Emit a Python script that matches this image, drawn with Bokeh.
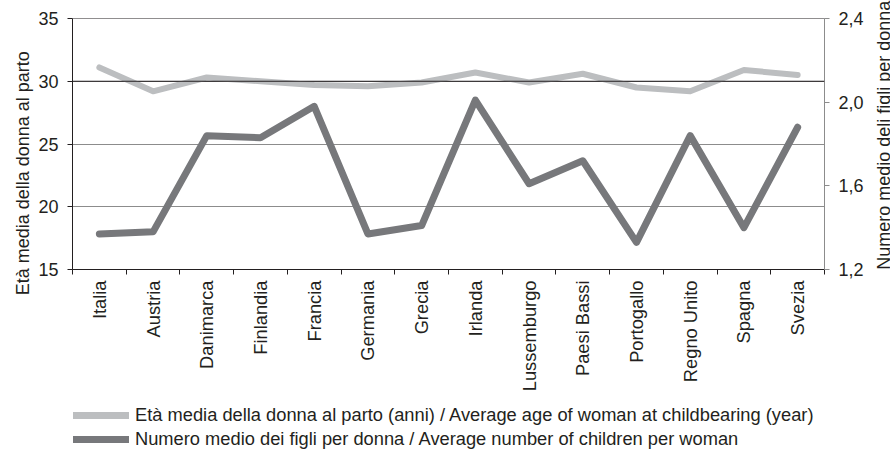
import math
from bokeh.plotting import figure
from bokeh.layouts import column
from bokeh.models import (Range1d, LinearAxis, FixedTicker, CustomJSTickFormatter,
                          Span, Legend, LegendItem)
from bokeh.embed import file_html
from bokeh.resources import INLINE

categories = ["Italia", "Austria", "Danimarca", "Finlandia", "Francia", "Germania", "Grecia",
              "Irlanda", "Lussemburgo", "Paesi Bassi", "Portogallo", "Regno Unito", "Spagna", "Svezia"]
age = [31.1, 29.2, 30.3, 30.0, 29.7, 29.6, 29.9, 30.7, 29.9, 30.6, 29.5, 29.2, 30.9, 30.5]
children = [1.37, 1.38, 1.84, 1.83, 1.98, 1.37, 1.41, 2.01, 1.61, 1.72, 1.33, 1.84, 1.40, 1.88]
left_ticks = [15, 20, 25, 30, 35]
right_ticks = [1.2, 1.6, 2.0, 2.4]
label_age = "Età media della donna al parto (anni) / Average age of woman at childbearing (year)"
label_children = "Numero medio dei figli per donna / Average number of children per woman"
left_title = "Età media della donna al parto"
right_title = "Numero medio deli figli per donna"

FONT = "Liberation Sans"
TXT = "#231f20"
FS = "18.3px"
FS_T = "18px"
C_AGE = "#bcbec0"
C_CH = "#77787b"
W = 907

n = len(categories)
xc = [i + 0.5 for i in range(n)]

p = figure(width=W, height=398,
           x_range=Range1d(0, n), y_range=Range1d(left_ticks[0], left_ticks[-1]),
           output_backend="svg", toolbar_location=None,
           min_border_left=72, min_border_right=81, min_border_top=18, min_border_bottom=129)
p.outline_line_color = None
p.extra_y_ranges = {"right": Range1d(right_ticks[0], right_ticks[-1])}

# grid
p.xgrid.visible = False
p.ygrid.ticker = FixedTicker(ticks=left_ticks)
p.ygrid.grid_line_color = "#8c8c8c"
p.ygrid.grid_line_width = 1
for loc in (30, 35):
    p.add_layout(Span(location=loc, dimension="width", line_color=TXT, line_width=1))


def style_ticks(ax, color):
    ax.major_label_text_font = FONT
    ax.major_label_text_font_size = FS_T
    ax.major_label_text_color = TXT
    ax.major_label_standoff = 9
    ax.major_tick_out = 5
    ax.major_tick_in = 0
    ax.minor_tick_out = 0
    ax.minor_tick_in = 0
    ax.axis_line_color = color
    ax.major_tick_line_color = color


def title_axis(text, pos, standoff, range_name="default"):
    # an axis carrying one rotated label that reads bottom to top, starting at `pos`
    ax = LinearAxis(y_range_name=range_name, ticker=FixedTicker(ticks=[pos]),
                    formatter=CustomJSTickFormatter(args=dict(t=text), code="return t;"))
    ax.major_label_orientation = -1.5 * math.pi
    ax.major_label_text_font = FONT
    ax.major_label_text_font_size = FS_T
    ax.major_label_text_color = TXT
    ax.major_label_standoff = standoff
    ax.axis_line_color = None
    ax.major_tick_line_color = None
    ax.minor_tick_line_color = None
    ax.major_tick_out = 0
    ax.major_tick_in = 0
    ax.minor_tick_out = 0
    ax.minor_tick_in = 0
    return ax


# left axis
ya = p.yaxis[0]
ya.ticker = FixedTicker(ticks=left_ticks)
style_ticks(ya, TXT)
p.add_layout(title_axis(left_title, 15.96, 12), "left")

# bottom axis
xa = p.xaxis[0]
xa.ticker = FixedTicker(ticks=xc, minor_ticks=list(range(n + 1)))
xa.formatter = CustomJSTickFormatter(args=dict(names=categories),
                                     code="const i = Math.round(tick - 0.5); return names[i] || '';")
xa.major_label_orientation = math.pi / 2
xa.major_label_text_font = FONT
xa.major_label_text_font_size = FS
xa.major_label_text_color = TXT
xa.major_label_standoff = 6
xa.major_tick_out = 0
xa.major_tick_in = 0
xa.minor_tick_out = 5
xa.minor_tick_in = 0
xa.minor_tick_line_color = TXT
xa.axis_line_color = TXT

# right axis
ra = LinearAxis(y_range_name="right", ticker=FixedTicker(ticks=right_ticks),
                formatter=CustomJSTickFormatter(code="return tick.toFixed(1).replace('.', ',');"))
style_ticks(ra, "#8c8c8c")
p.add_layout(ra, "right")
p.add_layout(title_axis(right_title, 1.2, 18, "right"), "right")

# lines
p.line(xc, age, line_color=C_AGE, line_width=6, line_cap="round", line_join="round")
p.line(xc, children, y_range_name="right", line_color=C_CH, line_width=7,
       line_cap="round", line_join="round")

# legend strip (series drawn out of view, used only as legend proxies)
q = figure(width=W, height=54, x_range=Range1d(0, n), y_range=Range1d(0, 1),
           x_axis_type=None, y_axis_type=None, output_backend="svg", toolbar_location=None,
           min_border=0)
q.outline_line_color = None
l1 = q.line(xc, age, line_color=C_AGE, line_width=7, line_cap="round")
l2 = q.line(xc, children, line_color=C_CH, line_width=7, line_cap="round")
legend = Legend(items=[LegendItem(label=label_age, renderers=[l1]),
                       LegendItem(label=label_children, renderers=[l2])],
                location=(1, 2), orientation="vertical")
legend.glyph_width = 56
legend.glyph_height = 22
legend.label_height = 22
legend.spacing = 2
legend.label_standoff = 6
legend.padding = 4
legend.margin = 0
legend.border_line_color = None
legend.background_fill_alpha = 0
legend.label_text_font = FONT
legend.label_text_font_size = FS
legend.label_text_color = TXT
q.add_layout(legend)

layout = column(p, q, spacing=0)
page_css = "{% block postamble %}<style>html, body { overflow: hidden; }</style>{% endblock %}"
open("out.html", "w").write(file_html(layout, INLINE, template=page_css))
